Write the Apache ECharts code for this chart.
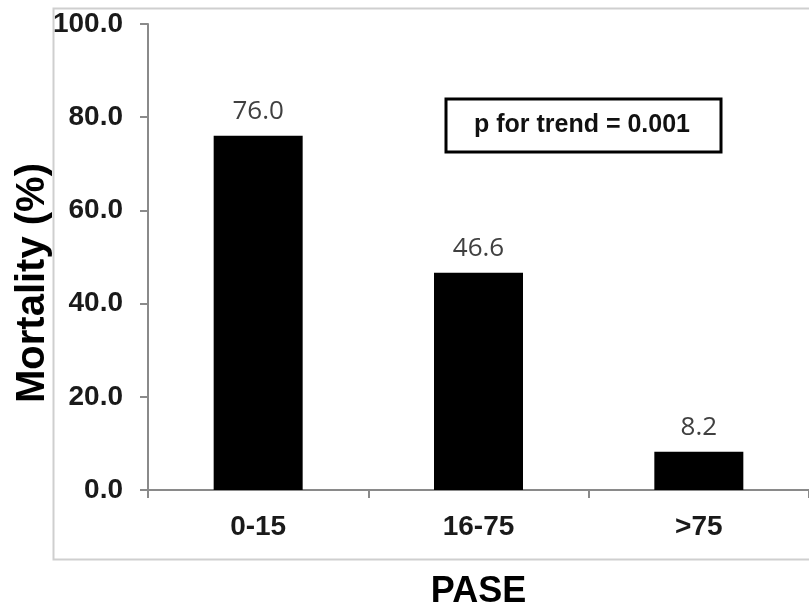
<!DOCTYPE html>
<html>
<head>
<meta charset="utf-8">
<script src="https://cdn.jsdelivr.net/npm/echarts@6/dist/echarts.min.js"></script>
<style>
html,body{margin:0;padding:0;background:#fff;}
#chart{width:809px;height:615px;}
</style>
</head>
<body>
<div id="chart"></div>
<script>
const categories = ['0-15', '16-75', '>75'];
const mortality = [76.0, 46.6, 8.2];
const yTicks = [0, 20, 40, 60, 80, 100];
const trendText = 'p for trend = 0.001';
const xTitle = 'PASE';
const yTitle = 'Mortality (%)';

const chart = echarts.init(document.getElementById('chart'), null, {renderer: 'canvas'});
const AX = '#8a8a8a';
const option = {
  animation: false,
  backgroundColor: '#fff',
  grid: {left: 148, top: 24, width: 668, height: 475, containLabel: false},
  xAxis: {
    type: 'category',
    data: categories,
    name: xTitle,
    nameLocation: 'middle',
    nameGap: 84,
    nameTextStyle: {fontFamily: 'Liberation Sans', fontWeight: 'bold', fontSize: 36, color: '#000'},
    axisLine: {lineStyle: {color: AX, width: 2}},
    axisTick: {show: true, length: 8, lineStyle: {color: AX, width: 2}, alignWithLabel: false},
    axisLabel: {fontFamily: 'Liberation Sans', fontWeight: 'bold', fontSize: 28, color: '#1a1a1a', margin: 23}
  },
  yAxis: {
    type: 'value',
    min: yTicks[0],
    max: yTicks[yTicks.length - 1],
    interval: 20,
    splitLine: {show: false},
    axisLine: {show: true, lineStyle: {color: AX, width: 2}},
    axisTick: {show: true, length: 8, lineStyle: {color: AX, width: 2}},
    axisLabel: {fontFamily: 'Liberation Sans', fontWeight: 'bold', fontSize: 28, color: '#1a1a1a', margin: 25,
      formatter: v => v.toFixed(1)}
  },
  series: [{
    type: 'bar',
    data: mortality,
    barWidth: 89,
    itemStyle: {color: '#000'},
    label: {show: true, position: 'top', distance: 11, formatter: p => p.value.toFixed(1),
      fontFamily: 'Open Sans', fontSize: 26, color: '#404040'}
  }],
  graphic: [
    {type: 'rect', left: 51, top: 6, shape: {width: 820, height: 551}, style: {fill: null, stroke: '#cfcfcf', lineWidth: 2}, z: -1, silent: true},
    {type: 'text', x: 33, y: 283, rotation: Math.PI / 2,
      style: {text: yTitle, fontFamily: 'Liberation Sans', fontWeight: 'bold', fontSize: 40, fill: '#000', align: 'center', verticalAlign: 'middle'}},
    {type: 'rect', shape: {x: 446, y: 99, width: 275, height: 53}, style: {fill: '#fff', stroke: '#000', lineWidth: 3}},
    {type: 'text', x: 582, y: 125,
      style: {text: trendText, fontFamily: 'Liberation Sans', fontWeight: 'bold', fontSize: 25, fill: '#111', align: 'center', verticalAlign: 'middle'}}
  ]
};
chart.setOption(option);
</script>
</body>
</html>
